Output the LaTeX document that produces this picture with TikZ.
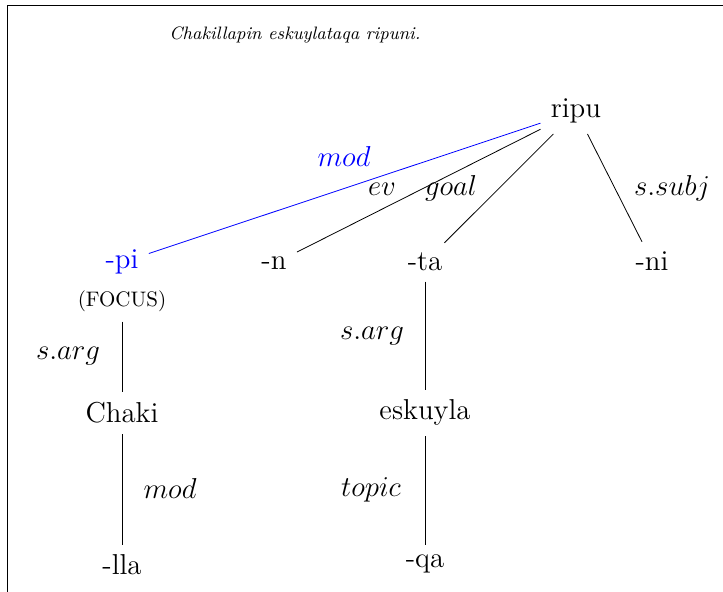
\documentclass[tikz,border=0pt]{standalone}
\usepackage{amsmath}
\usepackage{tikz}
\usetikzlibrary{positioning}

\begin{document}
\begin{tikzpicture}[x=0.5pt, y=-0.5pt,
    word/.style={font=\Large, inner sep=5pt, anchor=base},
    rel/.style={font=\Large, inner sep=0pt, anchor=base}]
    \useasboundingbox (0,0) rectangle (723,592);
    % frame, open at the bottom and on the right
    \draw[line width=0.8pt] (7.5,592) -- (7.5,5.5) -- (723,5.5);
    \node[font=\fontsize{9}{11}\selectfont\itshape, anchor=base] (title) at (295,40) {Chakillapin eskuylataqa ripuni.};

    % words
    \node[word] (ripu) at (576,118) {ripu};
    \node[word, text=blue] (pi) at (122,269) {-pi};
    \node[word] (n) at (274,270) {-n};
    \node[word] (ta) at (425,271) {-ta};
    \node[word] (ni) at (652,271) {-ni};
    \node[word, font=\fontsize{10.5}{12}\selectfont, inner sep=4.5pt] (focus) at (122,307) {(FOCUS)};
    \node[word] (chaki) at (122,423) {Chaki};
    \node[word] (lla) at (122,575) {-lla};
    \node[word] (eskuyla) at (425,420) {eskuyla};
    \node[word] (qa) at (425,568) {-qa};

    % connectors
    \draw[blue] (ripu) -- (pi);
    \draw (ripu) -- (n);
    \draw (ripu) -- (ta);
    \draw (ripu) -- (ni);
    \draw (focus) -- (chaki);
    \draw (chaki) -- (lla);
    \draw (ta) -- (eskuyla);
    \draw (eskuyla) -- (qa);

    % relation labels
    \node[rel, text=blue] (l-mod) at (344,167) {$mod$};
    \node[rel] (l-ev) at (382,196) {$ev$};
    \node[rel] (l-goal) at (451,196) {$goal$};
    \node[rel] (l-subj) at (672,196) {$s.subj$};
    \node[rel] (l-sarg1) at (68,360) {$s.arg$};
    \node[rel] (l-sarg2) at (372,340) {$s.arg$};
    \node[rel] (l-mod2) at (170,499) {$mod$};
    \node[rel] (l-topic) at (371,497) {$topic$};
\end{tikzpicture}
\end{document}
